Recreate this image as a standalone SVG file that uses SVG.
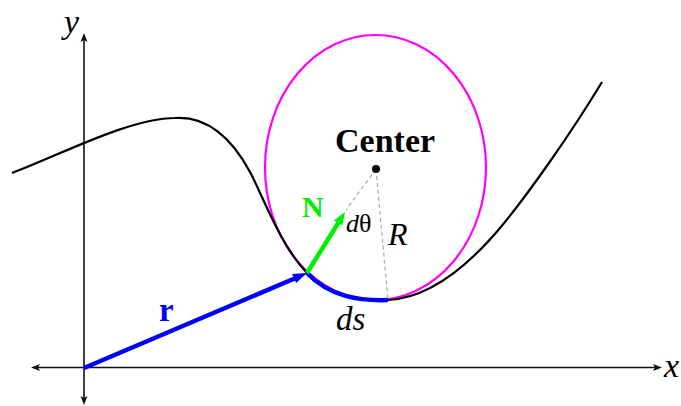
<svg xmlns="http://www.w3.org/2000/svg" width="681" height="406" viewBox="0 0 681 406">
<style>
.axis{stroke:#111;stroke-width:1.6;fill:none}
.ah{fill:#111}
.it{font-family:"Liberation Serif",serif;font-style:italic}
.bd{font-family:"Liberation Serif",serif;font-weight:bold}
.dash{stroke:#aaa;stroke-width:1.2;stroke-dasharray:4,3;fill:none}
</style>
<rect width="681" height="406" fill="#fff"/>
<g id="axes">
<line class="axis" x1="33" y1="367.5" x2="656" y2="367.5"/>
<polygon class="ah" points="662,367.5 653,364 655,367.5 653,371"/>
<polygon class="ah" points="31,367.5 40,364 38,367.5 40,371"/>
<line class="axis" x1="84" y1="40" x2="84" y2="400"/>
<polygon class="ah" points="84,33 80.5,42 84,40 87.5,42"/>
<polygon class="ah" points="84,405 80.5,396 84,398 87.5,396"/>
<text class="it" x="64" y="33" font-size="34">y</text>
<text class="it" x="664" y="377" font-size="34">x</text>
</g>
<g id="circle">
<ellipse cx="375.5" cy="167.5" rx="110.5" ry="132.5" fill="none" stroke="#ff00ff" stroke-width="2.2"/>
</g>
<g id="curve">
<path d="M12,173 C60,155 130,118 175,118 C205,116 230,135 250,172 C262,194 280,245 307,273 C330,297 360,301 388,300 C430,298 470,265 505,222 C530,191 570,135 602,82" fill="none" stroke="#000" stroke-width="2.2"/>
</g>
<g id="ds-arc">
<path d="M307,273 C330,297 360,301 388,300" fill="none" stroke="#0000ff" stroke-width="4.5"/>
<text class="it" x="336" y="330" font-size="33">ds</text>
</g>
<g id="connectors">
<line class="dash" x1="376" y1="169" x2="346" y2="210"/>
<line class="dash" x1="376" y1="169" x2="388" y2="300"/>
<line x1="84" y1="368" x2="294.5" y2="278.5" stroke="#0000ff" stroke-width="4.5"/>
<polygon points="307,273 296.1,283.1 292.1,273.9" fill="#0000ff"/>
<line x1="307" y1="273" x2="338.5" y2="222.5" stroke="#00ee00" stroke-width="4.5"/>
<polygon points="345,212 342.3,225.6 333.9,220.4" fill="#00ee00"/>
</g>
<g id="center">
<circle cx="376" cy="169" r="4" fill="#000"/>
<text class="bd" x="335" y="152" font-size="34">Center</text>
</g>
<g id="labels">
<text class="bd" x="159" y="321" font-size="33" fill="#0000ff">r</text>
<text class="bd" x="302" y="217" font-size="30" fill="#00ee00">N</text>
<text x="346" y="232" font-size="26" font-family="Liberation Serif,serif"><tspan font-style="italic">d</tspan>θ</text>
<text class="it" x="388" y="245" font-size="32">R</text>
</g>
</svg>
